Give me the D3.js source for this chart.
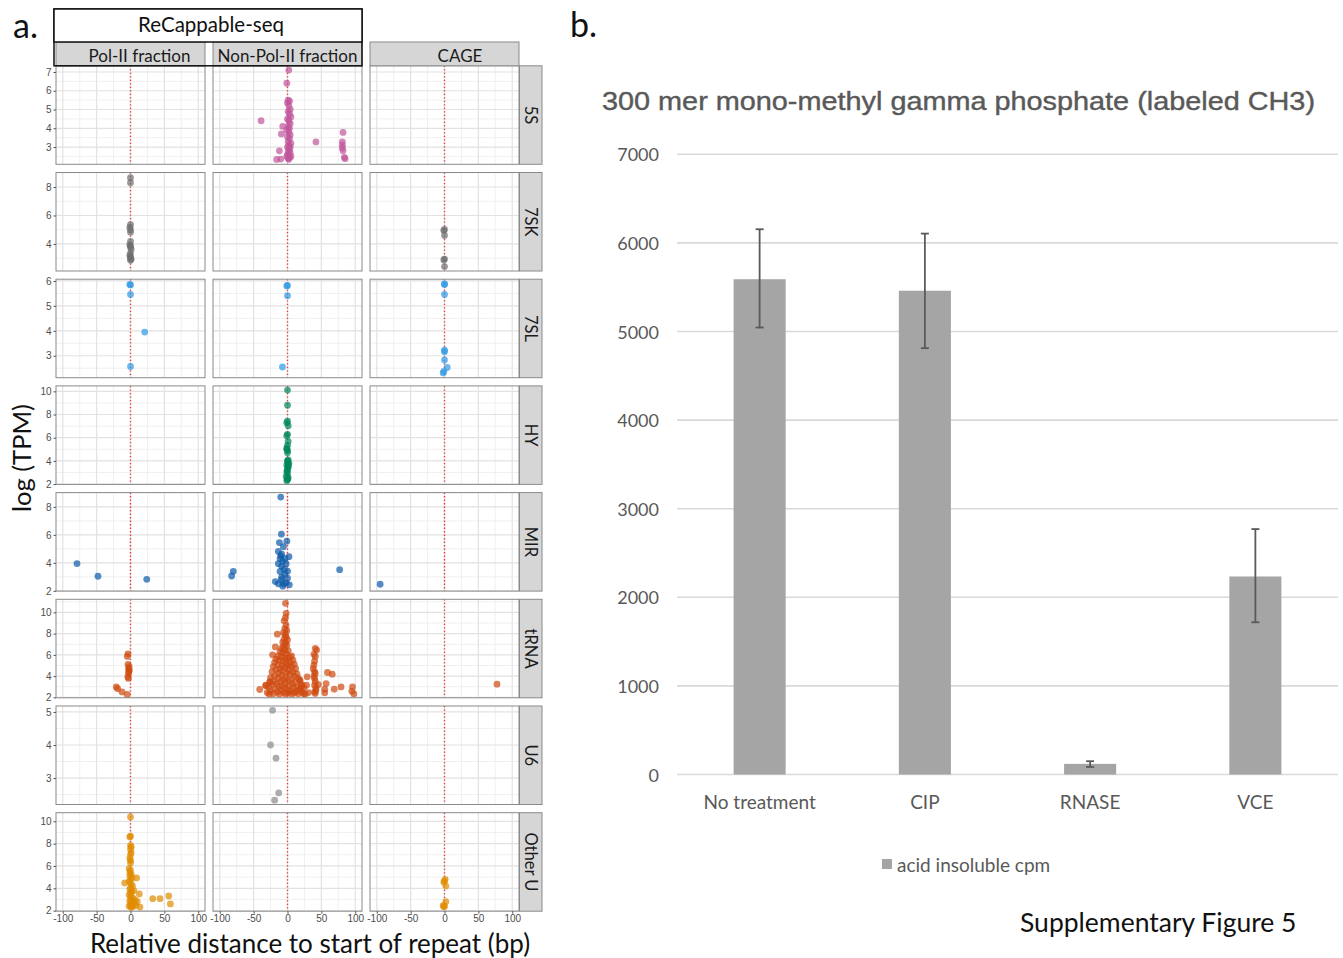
<!DOCTYPE html>
<html><head><meta charset="utf-8">
<script src="https://cdn.jsdelivr.net/npm/d3@7"></script>
<style>body{margin:0;background:#fff}svg{display:block}</style>
</head><body><svg id="c" width="1343" height="958"></svg>
<script>
// ---------------- Panel a data ----------------
const facetRows = ["5S","7SK","7SL","HY","MIR","tRNA","U6","Other U"];
const facetCols = ["Pol-II fraction","Non-Pol-II fraction","CAGE"];
const groupLabel = "ReCappable-seq";
const rowColors = ["#c0549a","#6e6e6e","#2e9ae4","#00875a","#0b5aa8","#cf4a10","#8a8a8a","#e08c00"];
const rowYMin = [2.08,2.1,2.12,1.97,1.98,1.96,2.2,1.95];
const rowYMax = [7.33,9.02,6.07,10.47,9.02,11.23,5.18,10.77];
const rowYTicks = [[3,4,5,6,7],[4,6,8],[3,4,5,6],[2,4,6,8,10],[2,4,6,8],[2,4,6,8,10],[3,4,5],[2,4,6,8,10]];
const xTickValues = [-100,-50,0,50,100];
const xDomain = [-110,110];

const s5_pol = [];
const s5_non = [[2,7.1],[-1,6.4],[1,5.5],[3,5.45],[0,5.35],[2,5.2],[4,5.0],[1,4.9],[3,4.75],[5,4.6],[0,4.5],[2,4.4],[4,4.25],[1,4.1],[3,4.0],[-1,3.9],[2,3.8],[4,3.65],[0,3.55],[3,3.45],[1,3.3],[5,3.2],[2,3.1],[0,3.0],[3,2.9],[1,2.8],[4,2.7],[2,2.6],[-1,2.5],[3,2.45],[1,2.4],[5,2.5],[2,2.35],[0,2.6],[4,3.0],[-39,4.4],[-7,4.1],[-9,3.7],[-12,2.8],[-16,2.34],[-10,2.36],[42,3.27],[82,3.78],[81,3.28],[81,3.1],[81,2.95],[82,2.8],[84,2.45],[85,2.38]];
const s5_cage = [];
const sk_pol = [[0,8.65],[0,8.3],[0,5.35],[-1,5.18],[0,5.0],[0,4.83],[0,4.18],[-1,3.95],[0,3.85],[0,3.79],[1,3.62],[0,3.36],[-1,3.2],[0,3.1],[0,3.01],[1,2.92],[0,2.85]];
const sk_non = [];
const sk_cage = [[0,5.02],[-1,4.95],[0,4.6],[0,2.94],[-1,2.88],[0,2.41]];
const sl_pol = [[0,5.84],[-1,5.86],[0,5.46],[21,3.95],[0,2.57]];
const sl_non = [[0,5.82],[-1,5.8],[0,5.41],[-7.5,2.55]];
const sl_cage = [[0,5.88],[0,5.86],[0,5.46],[0,3.22],[0,3.16],[0,2.83],[4,2.53],[-1,2.37],[-2,2.31]];
const hy_pol = [];
const hy_non = [[0,10.11],[0,8.8],[0,7.43],[-1,7.29],[1,7.03],[0,6.29],[-1,6.17],[1,5.69],[0,5.34],[-1,5.09],[0,4.89],[0,4.71],[1,4.09],[0,3.94],[2,3.8],[-1,3.63],[1,3.46],[0,3.29],[-1,3.09],[0,2.86],[-2,2.66],[1,2.55],[0,2.46],[-1,2.29],[1,3.7],[0,4.0],[-1,5.0],[1,3.55],[0,3.15],[0,2.4]];
const hy_cage = [];
const mir_pol = [[-79,3.95],[-48,3.04],[24,2.82]];
const mir_non = [[-10,8.7],[-9,6.05],[-12,5.45],[-1,5.55],[-6,5.15],[-13.5,4.81],[-8.6,4.62],[2.2,4.44],[-3.7,4.3],[-11,4.3],[-7,4.1],[-13.5,3.94],[-2,3.94],[-8.6,3.75],[-5,3.55],[-11,3.38],[0,3.4],[-8.6,2.97],[0,2.9],[-18,2.66],[-13.5,2.5],[-6,2.5],[2.7,2.43],[-7,2.33],[-2,2.57],[-10,4.5],[-4,3.2],[-9,2.8],[-80,3.39],[-82.5,3.06],[77,3.51]];
const mir_cage = [[-95,2.47]];
const trna_pol = [[-3.7,6.1],[-4.7,5.85],[-3.7,5.1],[-2,4.88],[-1.7,4.56],[-2.7,4.25],[-4,3.93],[-3,3.78],[-3,4.7],[-2.5,4.4],[-21,2.98],[-19,2.82],[-12.5,2.51],[-5,2.27]];
const trna_non = [[-3,10.85],[-2,9.9],[-3,9.5],[-5,9.2],[-2,8.8],[-4,8.5],[-1,8.3],[-6,8.1],[-3,7.9],[-15,7.95],[-2,7.7],[-5,7.5],[0,7.4],[-7,7.2],[-3,7.1],[-1,6.9],[-6,6.8],[-18,6.75],[-9,6.6],[-4,6.5],[1,6.4],[-11,6.3],[-7,6.2],[-2,6.1],[-22,6.0],[6,5.9],[-14,5.9],[3,5.8],[-9,5.8],[-4,5.7],[-17,5.6],[0,5.6],[8,5.5],[-12,5.5],[-6,5.4],[4,5.3],[-19,5.3],[-2,5.2],[10,5.1],[-14,5.1],[-8,5.0],[1,5.0],[-21,4.9],[6,4.9],[-4,4.8],[-11,4.7],[12,4.7],[2,4.6],[-17,4.6],[-7,4.5],[8,4.4],[-23,4.4],[-1,4.3],[-13,4.3],[14,4.2],[4,4.2],[-9,4.1],[-19,4.0],[10,4.0],[-3,3.9],[-25,3.85],[16,3.8],[-14,3.8],[6,3.7],[-6,3.65],[1,3.6],[-20,3.5],[18,3.6],[-10,3.5],[11,3.4],[-26,3.45],[-3,3.35],[-16,3.3],[7,3.25],[21,3.2],[-23,3.2],[2,3.1],[-8,3.1],[14,3.0],[-13,3.0],[-28,2.95],[24,2.9],[-4,2.9],[9,2.85],[-19,2.8],[18,2.75],[0,2.7],[-10,2.7],[-25,2.6],[5,2.6],[13,2.55],[-15,2.5],[21,2.5],[-6,2.45],[-30,2.45],[1,2.4],[10,2.4],[-21,2.35],[16,2.35],[-12,2.3],[-3,2.3],[6,2.3],[26,2.3],[-27,2.3],[20,2.9],[-32,3.1],[-41,2.74],[-32,3.14],[-26,3.45],[18.5,3.6],[29,3.93],[28,3.14],[31,2.45],[21,3.14],[24,2.35],[41,6.6],[43,6.45],[39,6.05],[41,5.85],[40,5.4],[39,5.03],[38,4.7],[40,4.4],[41,4.25],[39,4.0],[40,3.78],[41,3.5],[40,3.14],[42,2.9],[42,2.68],[40,2.5],[41,2.37],[45.6,3.2],[59,4.34],[66,4.18],[57,3.3],[55,2.77],[55,2.43],[69,2.77],[79,2.98],[96,2.98],[95,2.57],[98,2.32]];
const trna_cage = [[77.5,3.24]];
const u6_pol = [];
const u6_non = [[-22,5.05],[-25,4.0],[-17,3.6],[-13,2.55],[-19,2.33]];
const u6_cage = [];
const ou_pol = [[0,10.39],[0,8.66],[-1,8.6],[0,7.85],[1,7.7],[0,7.5],[1,7.2],[0,7.0],[-1,6.7],[0,6.5],[0,6.27],[-2,5.76],[0,5.6],[-1,5.4],[1,5.25],[-1,5.08],[9,4.93],[2,4.95],[-8.6,4.48],[0,4.8],[-2,4.6],[1,4.4],[3,4.2],[0,4.05],[-1,3.9],[2,3.7],[5,3.8],[13,3.49],[0,3.55],[-2,3.4],[1,3.25],[4,3.1],[0,3.0],[7,2.95],[-1,2.85],[2,2.75],[10,2.8],[5,2.6],[0,2.5],[-2,2.4],[3,2.35],[8,2.45],[14,2.32],[1,2.3],[32.8,3.07],[43.6,3.07],[56.4,3.31],[58.9,2.6]];
const ou_non = [];
const ou_cage = [[1,4.8],[0,4.65],[-1,4.55],[2,4.2],[2,2.8],[-2,2.45],[0,2.4],[-1,2.35]];

// ---------------- Panel b data ----------------
const barCategories = ["No treatment","CIP","RNASE","VCE"];
const barValues = [5590,5460,120,2235];
const barErrHigh = [6154,6105,150,2770];
const barErrLow = [5045,4812,85,1718];
const barYTicks = [0,1000,2000,3000,4000,5000,6000,7000];
const barTitle = "300 mer mono-methyl gamma phosphate (labeled CH3)";
const legendLabel = "acid insoluble cpm";

// ---------------- Drawing ----------------
const svg = d3.select("#c");
const facetPoints = [
  [s5_pol,s5_non,s5_cage],[sk_pol,sk_non,sk_cage],[sl_pol,sl_non,sl_cage],[hy_pol,hy_non,hy_cage],
  [mir_pol,mir_non,mir_cage],[trna_pol,trna_non,trna_cage],[u6_pol,u6_non,u6_cage],[ou_pol,ou_non,ou_cage]];

const colX = [56,213,370], pw = 149, ph = 98.5, rowTop0 = 65.8, rowStep = 106.7;
const stripTextX = [139.5,287.5,460];
const sans = "'Liberation Sans', Arial, sans-serif";
const myriad = "Lato, 'Open Sans', sans-serif";
const plainFmt = d => String(d);

function minorOf(ticks, dom){
  const st = ticks[1]-ticks[0];
  const ext = [ticks[0]-st, ...ticks, ticks[ticks.length-1]+st];
  const out = [];
  for(let i=0;i<ext.length-1;i++){const m=(ext[i]+ext[i+1])/2; if(m>=dom[0]&&m<=dom[1]) out.push(m);}
  return out;
}

const ga = svg.append("g");
facetRows.forEach((rn, r) => {
  const y0 = rowTop0 + r*rowStep;
  const ydom = [rowYMin[r], rowYMax[r]];
  const ys = d3.scaleLinear().domain(ydom).range([y0+ph, y0]);
  facetCols.forEach((cn, c) => {
    const x0 = colX[c];
    const xs = d3.scaleLinear().domain(xDomain).range([x0, x0+pw]);
    const g = ga.append("g");
    g.append("rect").attr("x",x0).attr("y",y0).attr("width",pw).attr("height",ph).attr("fill","#fff");
    minorOf(xTickValues, xDomain).forEach(v => g.append("line").attr("x1",xs(v)).attr("x2",xs(v)).attr("y1",y0).attr("y2",y0+ph).attr("stroke","#eeeeee").attr("stroke-width",0.9));
    minorOf(rowYTicks[r], ydom).forEach(v => g.append("line").attr("y1",ys(v)).attr("y2",ys(v)).attr("x1",x0).attr("x2",x0+pw).attr("stroke","#eeeeee").attr("stroke-width",0.9));
    xTickValues.forEach(v => g.append("line").attr("x1",xs(v)).attr("x2",xs(v)).attr("y1",y0).attr("y2",y0+ph).attr("stroke","#e2e2e2").attr("stroke-width",1.2));
    rowYTicks[r].forEach(v => g.append("line").attr("y1",ys(v)).attr("y2",ys(v)).attr("x1",x0).attr("x2",x0+pw).attr("stroke","#e2e2e2").attr("stroke-width",1.2));
    g.append("line").attr("x1",xs(0)).attr("x2",xs(0)).attr("y1",y0).attr("y2",y0+ph)
      .attr("stroke","#f03a3a").attr("stroke-width",1.4).attr("stroke-dasharray","1.3,2.2");
    g.selectAll("circle.p").data(facetPoints[r][c]).join("circle")
      .attr("cx",d=>xs(d[0])).attr("cy",d=>ys(d[1])).attr("r",3.4)
      .attr("fill",rowColors[r]).attr("fill-opacity",0.7);
    g.append("rect").attr("x",x0).attr("y",y0).attr("width",pw).attr("height",ph)
      .attr("fill","none").attr("stroke","#8a8a8a").attr("stroke-width",1);
    if(c===0){
      const ax = g.append("g").attr("transform",`translate(${x0},0)`)
        .call(d3.axisLeft(ys).tickValues(rowYTicks[r]).tickSize(2.5).tickPadding(2).tickFormat(plainFmt));
      ax.select(".domain").remove();
      ax.selectAll("line").attr("stroke","#555");
      ax.selectAll("text").attr("fill","#4d4d4d").style("font-family",sans).style("font-size","10px");
    }
    if(r===facetRows.length-1){
      const ax = g.append("g").attr("transform",`translate(0,${y0+ph})`)
        .call(d3.axisBottom(xs).tickValues(xTickValues).tickSize(2.5).tickPadding(1.5).tickFormat(plainFmt));
      ax.select(".domain").remove();
      ax.selectAll("line").attr("stroke","#555");
      ax.selectAll("text").attr("fill","#4d4d4d").style("font-family",sans).style("font-size","10px");
    }
  });
  const sx = colX[2]+pw+0.5;
  ga.append("rect").attr("x",sx).attr("y",y0).attr("width",22.5).attr("height",ph)
    .attr("fill","#d6d6d6").attr("stroke","#8a8a8a").attr("stroke-width",1);
  ga.append("text").attr("transform",`translate(${sx+11.25},${y0+ph/2}) rotate(90)`)
    .attr("text-anchor","middle").attr("dominant-baseline","central")
    .style("font-family",myriad).style("font-size","16.5px").attr("fill","#1a1a1a").text(rn);
});
facetCols.forEach((cn,c) => {
  ga.append("rect").attr("x",colX[c]).attr("y",42).attr("width",pw).attr("height",rowTop0-42)
    .attr("fill","#d6d6d6").attr("stroke","#8a8a8a").attr("stroke-width",1);
  ga.append("text").attr("x",stripTextX[c]).attr("y",62).attr("text-anchor","middle")
    .style("font-family",myriad).style("font-size","17px").attr("fill","#1a1a1a").text(cn);
});
ga.append("rect").attr("x",54).attr("y",9).attr("width",308).attr("height",rowTop0-9)
  .attr("fill","none").attr("stroke","#111").attr("stroke-width",1.5);
ga.append("rect").attr("x",54).attr("y",9).attr("width",308).attr("height",33)
  .attr("fill","#fff").attr("stroke","#111").attr("stroke-width",1.5);
ga.append("text").attr("x",211).attr("y",32).attr("text-anchor","middle")
  .style("font-family",myriad).style("font-size","20.5px").attr("fill","#111").text(groupLabel);
ga.append("text").attr("x",310).attr("y",953).attr("text-anchor","middle")
  .style("font-family",myriad).style("font-size","26px").attr("fill","#111").text("Relative distance to start of repeat (bp)");
ga.append("text").attr("transform","translate(31,458) rotate(-90)").attr("text-anchor","middle")
  .style("font-family",myriad).style("font-size","25.5px").attr("fill","#111").text("log (TPM)");
svg.append("text").attr("x",13).attr("y",38).style("font-family",myriad).style("font-size","34px").attr("fill","#111").text("a.");
svg.append("text").attr("x",570).attr("y",37).style("font-family",myriad).style("font-size","34px").attr("fill","#111").text("b.");

// ---------------- Panel b ----------------
const gb = svg.append("g");
const yb = d3.scaleLinear().domain([0,7000]).range([774.5,154.3]);
const xb = d3.scaleBand().domain(barCategories).range([677,1338]).padding(0);
const bw = xb.bandwidth()*0.315;
gb.selectAll("line.grid").data(barYTicks).join("line")
  .attr("x1",677).attr("x2",1338).attr("y1",d=>yb(d)).attr("y2",d=>yb(d))
  .attr("stroke","#d9d9d9").attr("stroke-width",1.6);
gb.selectAll("text.yl").data(barYTicks).join("text")
  .attr("x",659).attr("y",d=>yb(d)).attr("text-anchor","end").attr("dominant-baseline","central")
  .style("font-family",myriad).style("font-size","18px").attr("fill","#595959").text(d=>d);
gb.selectAll("rect.bar").data(barValues).join("rect")
  .attr("x",(d,i)=>xb(barCategories[i])+xb.bandwidth()/2-bw/2).attr("width",bw)
  .attr("y",d=>yb(d)).attr("height",d=>yb(0)-yb(d)).attr("fill","#a5a5a5");
barCategories.forEach((cat,i) => {
  const cx = xb(cat)+xb.bandwidth()/2;
  const e = gb.append("g").attr("stroke","#5a5a5a").attr("stroke-width",1.8);
  e.append("line").attr("x1",cx).attr("x2",cx).attr("y1",yb(barErrHigh[i])).attr("y2",yb(barErrLow[i]));
  e.append("line").attr("x1",cx-4).attr("x2",cx+4).attr("y1",yb(barErrHigh[i])).attr("y2",yb(barErrHigh[i]));
  e.append("line").attr("x1",cx-4).attr("x2",cx+4).attr("y1",yb(barErrLow[i])).attr("y2",yb(barErrLow[i]));
  gb.append("text").attr("x",cx).attr("y",801).attr("text-anchor","middle").attr("dominant-baseline","central")
    .style("font-family",myriad).style("font-size","19px").attr("fill","#595959").text(cat);
});
gb.append("text").attr("x",602).attr("y",110).style("font-family",sans).style("font-size","25px")
  .attr("fill","#595959").attr("stroke","#595959").attr("stroke-width",0.4)
  .attr("textLength",713).attr("lengthAdjust","spacingAndGlyphs").text(barTitle);
gb.append("rect").attr("x",882).attr("y",859).attr("width",10).attr("height",10).attr("fill","#a5a5a5");
gb.append("text").attr("x",897).attr("y",864).attr("dominant-baseline","central")
  .style("font-family",myriad).style("font-size","19px").attr("fill","#595959").text(legendLabel);
svg.append("text").attr("x",1020).attr("y",932).style("font-family",myriad).style("font-size","26.5px")
  .attr("fill","#111").text("Supplementary Figure 5");
</script></body></html>
